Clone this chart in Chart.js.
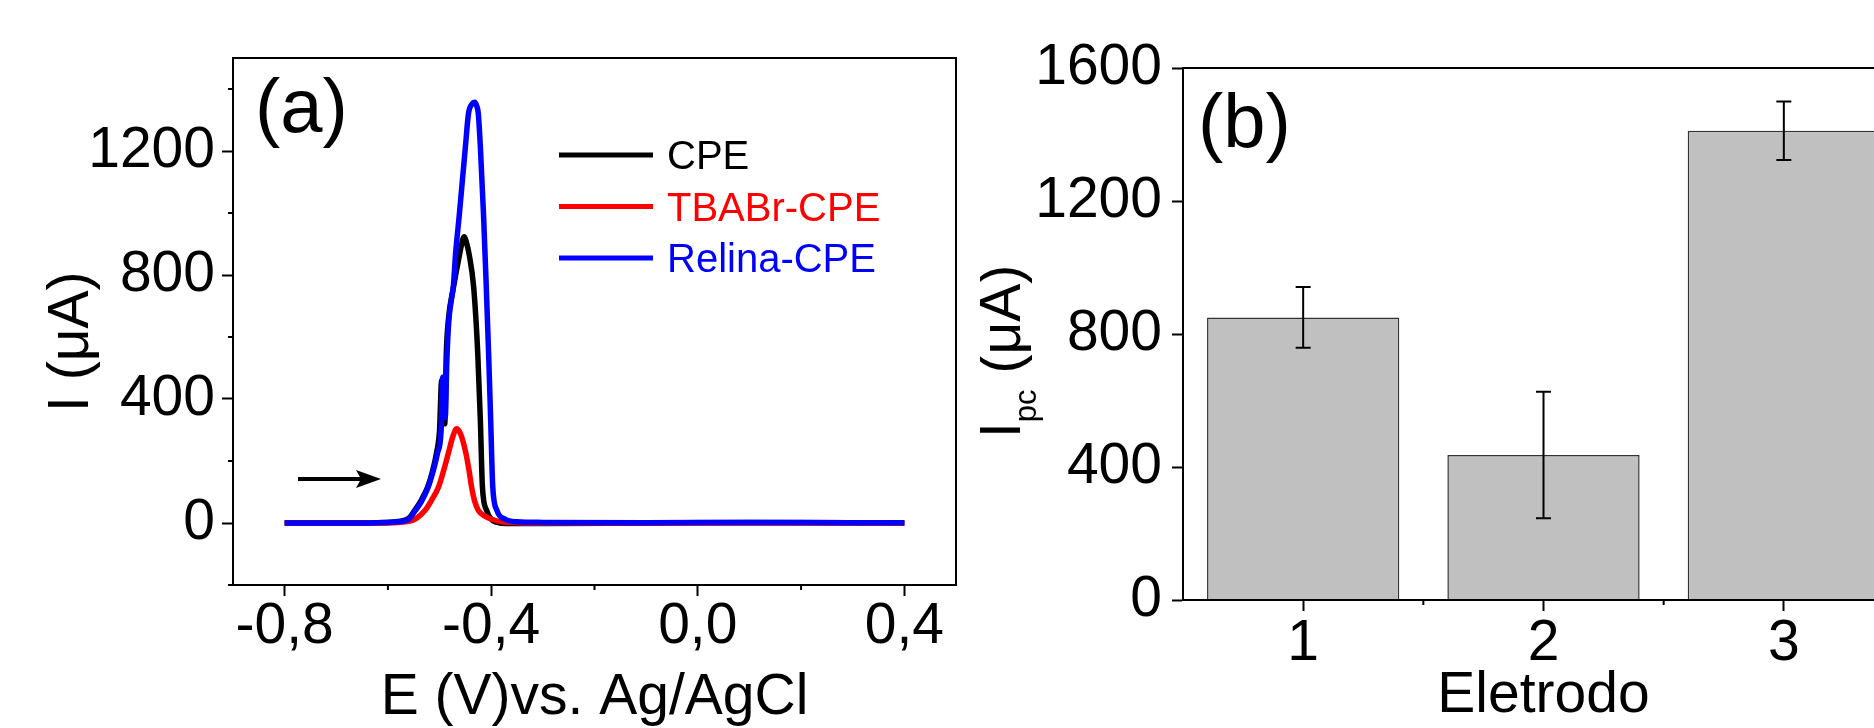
<!DOCTYPE html>
<html lang="pt">

<head>
    <meta charset="UTF-8">
    <title>Voltametria: CPE, TBABr-CPE e Relina-CPE</title>
    <script src="https://cdn.jsdelivr.net/npm/chart.js"></script>
    <style>
        html, body { margin: 0; padding: 0; background: #fff; overflow: hidden; width: 1874px; height: 728px; }
        canvas { position: absolute; top: 0; }
        #chartA { left: 0; }
        #chartB { left: 980px; }
    </style>
</head>

<body>
    <canvas id="chartA" width="980" height="728"></canvas>
    <canvas id="chartB" width="950" height="728"></canvas>

    <script>
        const FONT = '"Liberation Sans", Arial, Helvetica, sans-serif';
        Chart.defaults.font.family = FONT;
        Chart.defaults.color = '#000';

        // ---- (a) voltammograms ----
        const xMajorA = [-0.8, -0.4, 0.0, 0.4];
        const xLabelsA = ['-0,8', '-0,4', '0,0', '0,4'];
        const xMinorA = [-0.6, -0.2, 0.2];
        const yMajorA = [0, 400, 800, 1200];
        const yLabelsA = ['0', '400', '800', '1200'];
        const yMinorA = [-200, 200, 600, 1000, 1400];

        const cpeE = [-0.80, -0.70, -0.62, -0.58, -0.56, -0.548, -0.535, -0.523, -0.514, -0.506,
            -0.500, -0.496, -0.490, -0.487, -0.483, -0.473, -0.461, -0.455, -0.452, -0.448,
            -0.443, -0.434, -0.426, -0.421, -0.417, -0.409, -0.400, -0.390, -0.370, -0.30,
            -0.10, 0.10, 0.30, 0.40];
        const cpeI = [0, 0, 1, 5, 15, 41, 75, 116, 165, 225,
            300, 460, 320, 545, 654, 761, 869, 915, 923, 905,
            869, 761, 545, 330, 116, 41, 12, 3, -2, -2,
            0, 2, 1, 0];

        const tbabrE = [-0.80, -0.70, -0.62, -0.58, -0.56, -0.545, -0.528, -0.515, -0.502, -0.492,
            -0.483, -0.475, -0.467, -0.460, -0.454, -0.449, -0.443, -0.438, -0.432, -0.425,
            -0.412, -0.399, -0.38, -0.35, -0.30, 0.00, 0.40];
        const tbabrI = [0, 0, 0, 2, 5, 15, 41, 75, 116, 170,
            225, 275, 304, 290, 260, 225, 170, 116, 70, 41,
            22, 12, 4, 1, 0, 0, 0];

        const relinaE = [-0.80, -0.70, -0.62, -0.58, -0.56, -0.548, -0.535, -0.522, -0.512, -0.504,
            -0.497, -0.494, -0.489, -0.486, -0.482, -0.473, -0.469, -0.462, -0.450, -0.444,
            -0.437, -0.432, -0.428, -0.425, -0.421, -0.415, -0.410, -0.405, -0.401, -0.397,
            -0.389, -0.373, -0.350, -0.30, -0.10, 0.10, 0.30, 0.40];
        const relinaI = [0, 0, 1, 4, 12, 38, 70, 116, 170, 225,
            300, 470, 340, 520, 654, 770, 869, 990, 1213, 1321,
            1352, 1357, 1345, 1321, 1213, 999, 783, 545, 330, 116,
            41, 12, 4, 2, 1, 2, 1, 1];

        // ---- (b) peak currents ----
        const electrodes = ['1', '2', '3'];
        const ipc = [850, 436, 1411];
        const ipcErr = [91, 190, 88];
        const yMajorB = [0, 400, 800, 1200, 1600];

        const toXY = (xs, ys) => xs.map((v, i) => ({ x: v, y: ys[i] }));
        const tickFont = { size: 57, lineHeight: 1 };

        // draws a rotated axis title made of parts (for the subscript)
        function drawYTitle(ctx, x, y, parts) {
            ctx.save();
            ctx.translate(x, y);
            ctx.rotate(-Math.PI / 2);
            ctx.fillStyle = '#000';
            ctx.textAlign = 'left';
            ctx.textBaseline = 'alphabetic';
            let pos = 0;
            parts.forEach(p => {
                ctx.font = p.size + 'px ' + FONT;
                ctx.fillText(p.text, pos, p.dy || 0);
                pos += ctx.measureText(p.text).width;
            });
            ctx.restore();
        }

        const decorA = {
            id: 'decorA',
            afterDraw(chart) {
                const { ctx, chartArea: ca, scales: { x, y } } = chart;
                ctx.save();
                ctx.strokeStyle = '#000';
                ctx.lineWidth = 2;
                ctx.strokeRect(ca.left, ca.top, ca.right - ca.left, ca.bottom - ca.top);

                // minor ticks
                ctx.beginPath();
                xMinorA.forEach(v => {
                    const px = x.getPixelForValue(v);
                    ctx.moveTo(px, ca.bottom); ctx.lineTo(px, ca.bottom + 5);
                });
                yMinorA.forEach(v => {
                    const py = y.getPixelForValue(v);
                    ctx.moveTo(ca.left, py); ctx.lineTo(ca.left - 5, py);
                });
                ctx.stroke();

                // legend
                ctx.font = '40px ' + FONT;
                ctx.textBaseline = 'alphabetic';
                chart.data.datasets.forEach((ds, i) => {
                    const ly = 155 + i * 51.5;
                    ctx.strokeStyle = ds.borderColor;
                    ctx.lineWidth = 5;
                    ctx.beginPath();
                    ctx.moveTo(559, ly); ctx.lineTo(653, ly);
                    ctx.stroke();
                    ctx.fillStyle = ds.borderColor;
                    ctx.fillText(ds.label, 667, ly + 14);
                });

                // (a)
                ctx.fillStyle = '#000';
                ctx.font = '76px ' + FONT;
                ctx.fillText('(a)', 255, 132);

                // scan direction arrow
                ctx.strokeStyle = '#000';
                ctx.lineWidth = 4;
                ctx.beginPath();
                ctx.moveTo(298, 479); ctx.lineTo(366, 479);
                ctx.stroke();
                ctx.beginPath();
                ctx.moveTo(381, 479); ctx.lineTo(356, 470); ctx.lineTo(361, 479); ctx.lineTo(356, 488);
                ctx.closePath();
                ctx.fill();
                ctx.restore();

                drawYTitle(ctx, 88, 412, [{ text: 'I (μA)', size: 57 }]);
            }
        };

        new Chart(document.getElementById('chartA'), {
            type: 'line',
            data: {
                datasets: [
                    { label: 'CPE', data: toXY(cpeE, cpeI), borderColor: '#000000', order: 3 },
                    { label: 'TBABr-CPE', data: toXY(tbabrE, tbabrI), borderColor: '#ff0000', order: 2 },
                    { label: 'Relina-CPE', data: toXY(relinaE, relinaI), borderColor: '#0000ff', order: 1 }
                ]
            },
            options: {
                responsive: false,
                animation: false,
                elements: {
                    point: { radius: 0 },
                    line: { borderWidth: 5.5, cubicInterpolationMode: 'monotone', fill: false }
                },
                layout: { padding: { top: 58, right: 24, left: 0, bottom: 0 } },
                plugins: { legend: { display: false }, tooltip: { enabled: false } },
                scales: {
                    x: {
                        type: 'linear', min: -0.9, max: 0.5,
                        afterBuildTicks: s => { s.ticks = xMajorA.map(v => ({ value: v })); },
                        afterFit: s => { s.height = 143; },
                        grid: { drawOnChartArea: false, tickLength: 11, tickWidth: 2, tickColor: '#000' },
                        border: { color: '#000', width: 2 },
                        ticks: {
                            font: tickFont, color: '#000', padding: 3, maxRotation: 0, autoSkip: false,
                            callback: (v, i) => xLabelsA[i]
                        },
                        title: {
                            display: true, text: 'E (V)vs. Ag/AgCl', color: '#000',
                            font: { size: 57, lineHeight: 1 }, padding: { top: 0, bottom: 1 }
                        }
                    },
                    y: {
                        type: 'linear', min: -200, max: 1500,
                        afterBuildTicks: s => { s.ticks = yMajorA.map(v => ({ value: v })); },
                        afterFit: s => { s.width = 233; },
                        grid: { drawOnChartArea: false, tickLength: 11, tickWidth: 2, tickColor: '#000' },
                        border: { color: '#000', width: 2 },
                        ticks: { font: tickFont, color: '#000', padding: 7, callback: (v, i) => yLabelsA[i] }
                    }
                }
            },
            plugins: [decorA]
        });

        const decorB = {
            id: 'decorB',
            afterDraw(chart) {
                const { ctx, chartArea: ca, scales: { x, y } } = chart;
                ctx.save();
                ctx.strokeStyle = '#000';
                ctx.lineWidth = 2;
                ctx.strokeRect(ca.left, ca.top, ca.right - ca.left, ca.bottom - ca.top);

                // minor ticks between categories
                ctx.beginPath();
                for (let i = 0; i < electrodes.length - 1; i++) {
                    const px = (x.getPixelForValue(i) + x.getPixelForValue(i + 1)) / 2;
                    ctx.moveTo(px, ca.bottom); ctx.lineTo(px, ca.bottom + 5);
                }
                ctx.stroke();

                // error bars
                ctx.lineWidth = 2;
                ctx.beginPath();
                ipc.forEach((v, i) => {
                    const px = x.getPixelForValue(i);
                    const hi = y.getPixelForValue(v + ipcErr[i]);
                    const lo = y.getPixelForValue(v - ipcErr[i]);
                    ctx.moveTo(px, hi); ctx.lineTo(px, lo);
                    ctx.moveTo(px - 7.5, hi); ctx.lineTo(px + 7.5, hi);
                    ctx.moveTo(px - 7.5, lo); ctx.lineTo(px + 7.5, lo);
                });
                ctx.stroke();

                ctx.fillStyle = '#000';
                ctx.font = '76px ' + FONT;
                ctx.fillText('(b)', 218, 147);
                ctx.restore();

                drawYTitle(ctx, 40, 438, [
                    { text: 'I', size: 57 },
                    { text: 'pc', size: 31, dy: 16 },
                    { text: ' (μA)', size: 57 }
                ]);
            }
        };

        new Chart(document.getElementById('chartB'), {
            type: 'bar',
            data: {
                labels: electrodes,
                datasets: [{
                    label: 'Ipc',
                    data: ipc,
                    backgroundColor: '#c0c0c0',
                    borderColor: '#333333',
                    borderWidth: 1.5,
                    barPercentage: 0.8,
                    categoryPercentage: 1.0
                }]
            },
            options: {
                responsive: false,
                animation: false,
                layout: { padding: { top: 68, right: 26, left: 0, bottom: 0 } },
                plugins: { legend: { display: false }, tooltip: { enabled: false } },
                scales: {
                    x: {
                        offset: true,
                        afterFit: s => { s.height = 128; },
                        grid: { offset: false, drawOnChartArea: false, tickLength: 11, tickWidth: 2, tickColor: '#000' },
                        border: { color: '#000', width: 2 },
                        ticks: { font: tickFont, color: '#000', padding: 5, maxRotation: 0 },
                        title: {
                            display: true, text: 'Eletrodo', color: '#000',
                            font: { size: 57, lineHeight: 1 }, padding: { top: 0, bottom: 3 }
                        }
                    },
                    y: {
                        min: 0, max: 1600,
                        afterBuildTicks: s => { s.ticks = yMajorB.map(v => ({ value: v })); },
                        afterFit: s => { s.width = 203; },
                        grid: { drawOnChartArea: false, tickLength: 11, tickWidth: 2, tickColor: '#000' },
                        border: { color: '#000', width: 2 },
                        ticks: { font: tickFont, color: '#000', padding: 10, callback: v => String(v) }
                    }
                }
            },
            plugins: [decorB]
        });
    </script>
</body>

</html>
